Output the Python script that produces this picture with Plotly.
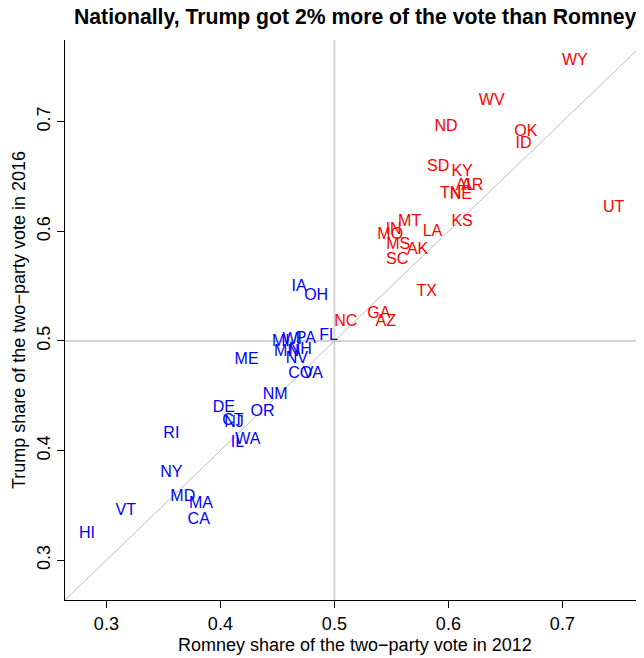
import plotly.graph_objects as go

states = ["HI","VT","CA","MA","MD","NY","RI","IL","WA","NJ","CT","DE","OR","NM","ME",
          "VA","CO","NV","NH","MN","MI","WI","PA","FL","OH","IA",
          "NC","AZ","GA","TX","SC","AK","MS","MO","IN","LA","MT","KS","NE","TN",
          "AR","AL","KY","SD","ID","OK","ND","WV","UT","WY"]
romney_2012 = [0.283,0.317,0.381,0.383,0.367,0.357,0.357,0.415,0.424,0.412,0.411,0.403,0.437,0.448,0.423,
               0.481,0.470,0.467,0.470,0.458,0.453,0.463,0.475,0.495,0.484,0.469,
               0.510,0.545,0.539,0.581,0.555,0.573,0.556,0.549,0.552,0.586,0.566,0.612,0.611,0.602,
               0.621,0.615,0.612,0.591,0.666,0.668,0.598,0.638,0.745,0.711]
trump_2016 = [0.324,0.345,0.337,0.351,0.358,0.380,0.415,0.407,0.410,0.425,0.427,0.439,0.435,0.451,0.483,
              0.470,0.470,0.484,0.492,0.490,0.499,0.501,0.502,0.505,0.541,0.549,
              0.517,0.517,0.525,0.545,0.574,0.583,0.588,0.597,0.601,0.599,0.609,0.609,0.633,0.634,
              0.641,0.641,0.654,0.659,0.680,0.691,0.695,0.719,0.621,0.755]
tick_vals = [0.3, 0.4, 0.5, 0.6, 0.7]
tick_text = ["0.3", "0.4", "0.5", "0.6", "0.7"]

colors = ["#FF0000" if r > 0.5 else "#0000FF" for r in romney_2012]

FONT = "Liberation Sans, Arial, Helvetica, sans-serif"
xr = [0.2637, 0.7716]
yr = [0.2637, 0.7746]

fig = go.Figure()
fig.add_trace(go.Scatter(
    x=romney_2012, y=trump_2016, mode="text", text=states,
    textposition="middle center",
    textfont=dict(family=FONT, size=16, color=colors),
    hoverinfo="text", showlegend=False, cliponaxis=False,
))

fig.add_shape(type="line", xref="x", yref="y", x0=xr[0], y0=xr[0], x1=0.80, y1=0.80,
              line=dict(color="#BEBEBE", width=1), layer="below")
fig.add_shape(type="line", xref="x", yref="paper", x0=0.5, x1=0.5, y0=0, y1=1,
              line=dict(color="#D3D3D3", width=1.8), layer="below")
fig.add_shape(type="line", xref="paper", yref="y", x0=0, x1=1, y0=0.5, y1=0.5,
              line=dict(color="#D3D3D3", width=1.8), layer="below")

axis_common = dict(
    tickvals=tick_vals, ticktext=tick_text, showgrid=False, zeroline=False,
    showline=True, linecolor="#000000", linewidth=1, ticks="outside", ticklen=7,
    tickcolor="#000000", tickfont=dict(family=FONT, size=18, color="#000000"),
)
fig.update_xaxes(range=xr, **axis_common)
fig.update_yaxes(range=yr, tickangle=-90, **axis_common)

fig.add_annotation(text="<b>Nationally, Trump got 2% more of the vote than Romney</b>",
                   xref="paper", yref="paper", x=0.501, y=1.041, showarrow=False,
                   font=dict(family=FONT, size=21.2, color="#000000"),
                   xanchor="center", yanchor="middle")
fig.add_annotation(text="Romney share of the two\u2212party vote in 2012",
                   xref="paper", yref="paper", x=0.5, y=-0.080, showarrow=False,
                   font=dict(family=FONT, size=18, color="#000000"),
                   xanchor="center", yanchor="middle")
fig.add_annotation(text="Trump share of the two\u2212party vote in 2016",
                   xref="paper", yref="paper", x=-0.0794, y=0.5, showarrow=False,
                   textangle=-90,
                   font=dict(family=FONT, size=18, color="#000000"),
                   xanchor="center", yanchor="middle")

fig.update_layout(
    width=636, height=650,
    margin=dict(l=57, r=0, t=32, b=58),
    plot_bgcolor="#FFFFFF", paper_bgcolor="#FFFFFF",
    font=dict(family=FONT),
)

fig.write_html("out.html")
